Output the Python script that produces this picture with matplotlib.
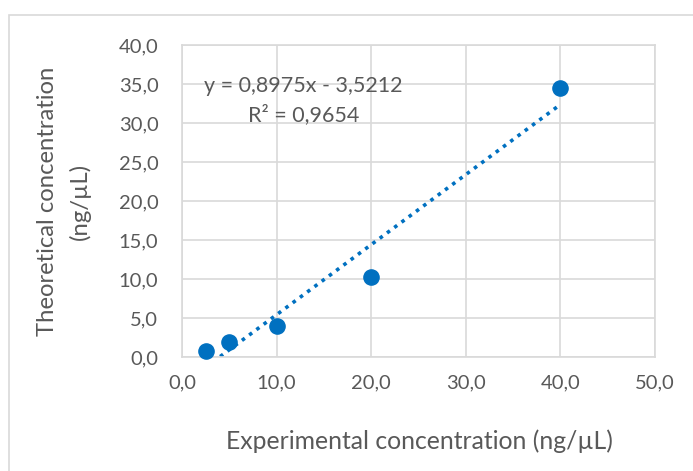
import matplotlib
matplotlib.use("Agg")
import matplotlib.pyplot as plt
import numpy as np
from matplotlib.patches import Rectangle

x_vals = [2.5, 5.0, 10.0, 20.0, 40.0]
y_vals = [0.75, 1.9, 4.0, 10.3, 34.5]
slope = 0.8975
intercept = -3.5212
eq_text = "y = 0,8975x - 3,5212"
r2_text = "R² = 0,9654"
x_ticks = [0, 10, 20, 30, 40, 50]
y_ticks = [0, 5, 10, 15, 20, 25, 30, 35, 40]

plt.rcParams['font.family'] = ['Lato', 'DejaVu Sans']
gray = '#595959'
blue = '#0070C0'
grid = '#d9d9d9'

fig = plt.figure(figsize=(6.93, 4.71), dpi=100)
fig.patches.append(Rectangle((9/693, -0.2), 1.2, 1 - 15/471 + 0.2, transform=fig.transFigure,
                             fill=False, edgecolor=grid, linewidth=1.2))
ax = fig.add_axes([182/693, 1 - 357.3/471, (655 - 182)/693, (357.3 - 45)/471])

ax.set_xlim(0, 50)
ax.set_ylim(0, 40)
ax.set_xticks(x_ticks)
ax.set_yticks(y_ticks)
fmt = lambda v: f"{v:.1f}".replace('.', ',')
ax.set_xticklabels([fmt(v) for v in x_ticks])
ax.set_yticklabels([fmt(v) for v in y_ticks])
ax.tick_params(length=0, colors=gray, labelsize=14.5)
ax.tick_params(axis='x', pad=12)
ax.tick_params(axis='y', pad=17)
ax.grid(True, color=grid, linewidth=1.2)
ax.set_axisbelow(True)
for s in ax.spines.values():
    s.set_color(grid)
    s.set_linewidth(1.2)

xt = np.array([min(x_vals), max(x_vals)])
ax.plot(xt, slope * xt + intercept, linestyle=(0, (1, 1.5)), color=blue, linewidth=2.6, zorder=2)
ax.scatter(x_vals, y_vals, s=120, color=blue, zorder=3, clip_on=False)

fig.text(303/693, 1 - 86/471, eq_text, fontsize=15.5, color=gray, ha='center', va='center')
fig.text(304/693, 1 - 115/471, r2_text, fontsize=15.5, color=gray, ha='center', va='center')

fig.text(419/693, 1 - 441/471, "Experimental concentration (ng/µL)", fontsize=17.8, color=gray,
         ha='center', va='center')
fig.text(64/693, 1 - 201/471, "Theoretical concentration\n(ng/µL)", fontsize=17.2, color=gray,
         ha='center', va='center', rotation=90, linespacing=1.55)

fig.savefig("out.png", dpi=100)
